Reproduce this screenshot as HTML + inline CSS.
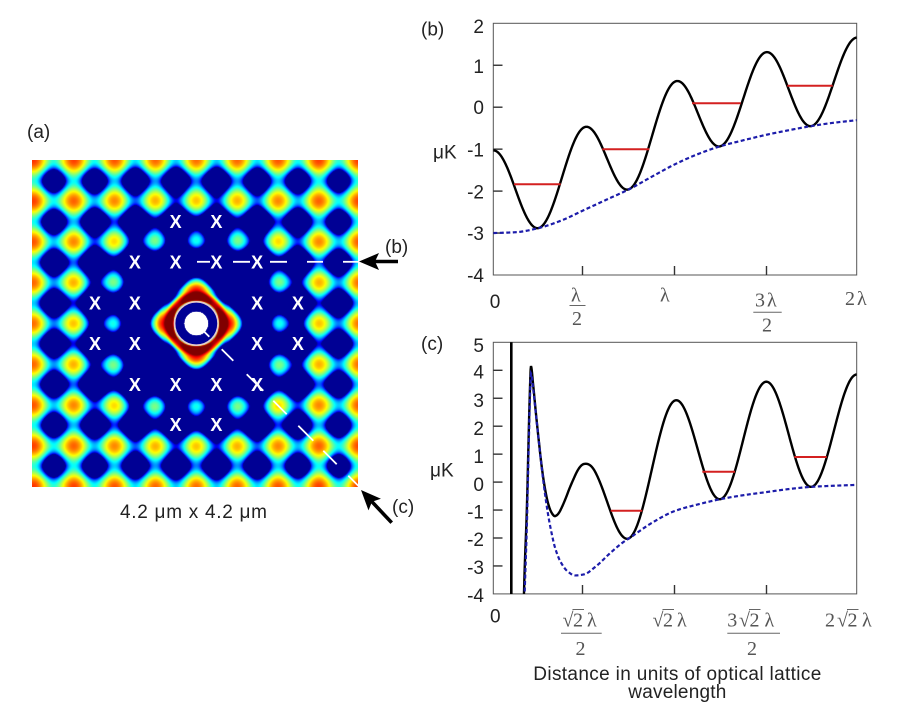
<!DOCTYPE html>
<html><head><meta charset="utf-8"><title>Optical lattice potential</title>
<style>
html,body{margin:0;padding:0;background:#fff;width:900px;height:720px;overflow:hidden}
#wrap{position:relative;width:900px;height:720px;background:#fff}
#hm{position:absolute;left:32px;top:160px;width:326px;height:327px;background:#1b3fbf}
#ov{position:absolute;left:0;top:0}
.t{font-family:"Liberation Sans",Arial,sans-serif;fill:#222;font-size:19px}
.s{font-family:"Liberation Serif","Times New Roman",serif;fill:#555;font-size:20px}
.xm{font-family:"Liberation Sans",Arial,sans-serif;fill:#fff;font-size:18px;font-weight:bold;text-anchor:middle}
</style></head><body><div id="wrap">
<canvas id="hm" width="326" height="327"></canvas>
<svg id="ov" width="900" height="720" viewBox="0 0 900 720">
<defs>
<clipPath id="cb"><rect x="493.3" y="23.3" width="363.4" height="251.7"/></clipPath>
<clipPath id="cc"><rect x="493.3" y="342.3" width="363.4" height="251.6"/></clipPath>
</defs>

<!-- heatmap overlays -->
<circle cx="196.3" cy="323.5" r="21.7" fill="none" stroke="#e9caca" stroke-width="1.6"/>
<circle cx="196.3" cy="323.5" r="11.8" fill="#fff"/>
<g stroke="#fff" stroke-width="1.8">
<line x1="197" y1="261.8" x2="210" y2="261.8"/>
<line x1="233" y1="261.8" x2="250" y2="261.8"/>
<line x1="270" y1="261.8" x2="287" y2="261.8"/>
<line x1="307" y1="261.8" x2="323" y2="261.8"/>
<line x1="343" y1="261.8" x2="358" y2="261.8"/>
<line x1="203.3" y1="330.8" x2="209.3" y2="336.8"/>
<line x1="221.7" y1="349.2" x2="233.3" y2="360.8"/>
<line x1="246.7" y1="374.2" x2="263.3" y2="390.8"/>
<line x1="273.3" y1="400.8" x2="286.7" y2="414.2"/>
<line x1="298.3" y1="425.8" x2="313.3" y2="440.8"/>
<line x1="323.3" y1="450.8" x2="336.7" y2="464.2"/>
<line x1="348.3" y1="475.8" x2="358.5" y2="486"/>
</g>
<g class="xm">
<text x="175.6" y="228">X</text><text x="216.4" y="228">X</text>
<text x="134.9" y="268.3">X</text><text x="175.6" y="268.3">X</text><text x="216.4" y="268.3">X</text><text x="257.1" y="268.3">X</text>
<text x="95" y="309.6">X</text><text x="134.9" y="309.6">X</text><text x="257.1" y="309.6">X</text><text x="297.9" y="309.6">X</text>
<text x="95" y="349.8">X</text><text x="134.9" y="349.8">X</text><text x="257.1" y="349.8">X</text><text x="297.9" y="349.8">X</text>
<text x="134.9" y="391">X</text><text x="175.6" y="391">X</text><text x="216.4" y="391">X</text><text x="257.1" y="391">X</text>
<text x="175.6" y="431">X</text><text x="216.4" y="431">X</text>
</g>

<!-- arrows -->
<line x1="373" y1="261.5" x2="398" y2="261.5" stroke="#000" stroke-width="3.6"/>
<polygon points="359,261.5 379,253 375,261.5 379,270" fill="#000"/>
<line x1="371" y1="500.7" x2="391.7" y2="522.7" stroke="#000" stroke-width="3.6"/>
<polygon points="361,490 380.9,498.8 372,501.7 368.5,510.4" fill="#000"/>

<!-- left panel labels -->
<text class="t" x="27" y="138">(a)</text>
<text class="t" x="120" y="518" textLength="147" lengthAdjust="spacing">4.2 μm x 4.2 μm</text>
<text class="t" x="385" y="253">(b)</text>
<text class="t" x="392" y="513">(c)</text>

<!-- ===== plot (b) ===== -->
<text class="t" x="421" y="35.5">(b)</text>
<rect x="493.3" y="23.3" width="363.4" height="251.7" fill="none" stroke="#555" stroke-width="1"/>
<g stroke="#333" stroke-width="1.4">
<line x1="493.3" y1="65.25" x2="502.5" y2="65.25"/>
<line x1="493.3" y1="107.2" x2="502.5" y2="107.2"/>
<line x1="493.3" y1="149.15" x2="502.5" y2="149.15"/>
<line x1="493.3" y1="191.1" x2="502.5" y2="191.1"/>
<line x1="493.3" y1="233.05" x2="502.5" y2="233.05"/>
<line x1="582.5" y1="275" x2="582.5" y2="266"/>
<line x1="674.5" y1="275" x2="674.5" y2="266"/>
<line x1="766.5" y1="275" x2="766.5" y2="266"/>
</g>
<g class="t" text-anchor="end">
<text x="484" y="33">2</text>
<text x="484" y="73">1</text>
<text x="484" y="114">0</text>
<text x="484" y="156.5">-1</text>
<text x="484" y="198.5">-2</text>
<text x="484" y="240">-3</text>
<text x="484" y="282">-4</text>
</g>
<text class="t" x="433" y="158.5">μK</text>
<text class="t" x="495" y="308" text-anchor="middle">0</text>
<text class="s" x="571" y="301.5">λ</text>
<line x1="569.5" y1="305.5" x2="585.5" y2="305.5" stroke="#666" stroke-width="1"/>
<text class="s" x="572" y="325">2</text>
<text class="s" x="660" y="301.5">λ</text>
<text class="s" x="755" y="306.5">3</text><text class="s" x="767" y="306.5">λ</text>
<line x1="753.3" y1="312.3" x2="781.7" y2="312.3" stroke="#666" stroke-width="1"/>
<text class="s" x="762" y="331.5">2</text>
<text class="s" x="845" y="305">2</text><text class="s" x="857" y="305">λ</text>
<g clip-path="url(#cb)">
<path id="pbk" d="" fill="none" stroke="#000" stroke-width="2.4"/>
<path id="pbb" d="" fill="none" stroke="#1c1caa" stroke-width="2.2" stroke-dasharray="4 2.5"/>
</g>
<g stroke="#d42020" stroke-width="2">
<line x1="514" y1="184.3" x2="560.7" y2="184.3"/>
<line x1="602.3" y1="149.3" x2="649.3" y2="149.3"/>
<line x1="692" y1="103.3" x2="740.7" y2="103.3"/>
<line x1="787.3" y1="85.7" x2="832.7" y2="85.7"/>
</g>

<!-- ===== plot (c) ===== -->
<text class="t" x="421" y="350">(c)</text>
<rect x="493.3" y="342.3" width="363.4" height="251.6" fill="none" stroke="#555" stroke-width="1"/>
<g stroke="#333" stroke-width="1.4">
<line x1="493.3" y1="370.3" x2="502.5" y2="370.3"/>
<line x1="493.3" y1="398.25" x2="502.5" y2="398.25"/>
<line x1="493.3" y1="426.2" x2="502.5" y2="426.2"/>
<line x1="493.3" y1="454.15" x2="502.5" y2="454.15"/>
<line x1="493.3" y1="482.1" x2="502.5" y2="482.1"/>
<line x1="493.3" y1="510.05" x2="502.5" y2="510.05"/>
<line x1="493.3" y1="538" x2="502.5" y2="538"/>
<line x1="493.3" y1="565.95" x2="502.5" y2="565.95"/>
<line x1="582.5" y1="594" x2="582.5" y2="585"/>
<line x1="674.5" y1="594" x2="674.5" y2="585"/>
<line x1="766.5" y1="594" x2="766.5" y2="585"/>
</g>
<line x1="511.3" y1="342.3" x2="511.3" y2="594" stroke="#000" stroke-width="2.6"/>
<g class="t" text-anchor="end">
<text x="484" y="351.8">5</text>
<text x="484" y="378.5">4</text>
<text x="484" y="406.8">3</text>
<text x="484" y="435">2</text>
<text x="484" y="462.8">1</text>
<text x="484" y="490.8">0</text>
<text x="484" y="518.5">-1</text>
<text x="484" y="546.2">-2</text>
<text x="484" y="574.2">-3</text>
<text x="484" y="601.8">-4</text>
</g>
<text class="t" x="430" y="476.5">μK</text>
<text class="t" x="495.3" y="622.5" text-anchor="middle">0</text>
<!-- sqrt2 lambda / 2 -->
<text class="s" y="626.5"><tspan x="562.5">√</tspan><tspan x="573">2</tspan><tspan x="587">λ</tspan></text>
<line x1="572.5" y1="609.5" x2="584" y2="609.5" stroke="#666" stroke-width="1"/>
<line x1="561" y1="633.3" x2="601.7" y2="633.3" stroke="#666" stroke-width="1"/>
<text class="s" x="575.5" y="655">2</text>
<!-- sqrt2 lambda -->
<text class="s" y="626.5"><tspan x="652.5">√</tspan><tspan x="663">2</tspan><tspan x="677">λ</tspan></text>
<line x1="662.5" y1="609.5" x2="674" y2="609.5" stroke="#666" stroke-width="1"/>
<!-- 3 sqrt2 lambda / 2 -->
<text class="s" y="626.5"><tspan x="727.3">3</tspan><tspan x="739">√</tspan><tspan x="749.5">2</tspan><tspan x="764.5">λ</tspan></text>
<line x1="749" y1="609.5" x2="760.5" y2="609.5" stroke="#666" stroke-width="1"/>
<line x1="727.3" y1="633.3" x2="780" y2="633.3" stroke="#666" stroke-width="1"/>
<text class="s" x="747" y="655">2</text>
<!-- 2 sqrt2 lambda -->
<text class="s" y="626.5"><tspan x="825">2</tspan><tspan x="837">√</tspan><tspan x="847.5">2</tspan><tspan x="862">λ</tspan></text>
<line x1="847" y1="609.5" x2="858.5" y2="609.5" stroke="#666" stroke-width="1"/>
<g clip-path="url(#cc)">
<path id="pck" d="" fill="none" stroke="#000" stroke-width="2.4"/>
<path id="pcb" d="" fill="none" stroke="#1c1caa" stroke-width="2.2" stroke-dasharray="4 2.5"/>
</g>
<g stroke="#d42020" stroke-width="2">
<line x1="610.7" y1="510.7" x2="642.3" y2="510.7"/>
<line x1="702.3" y1="471.7" x2="735" y2="471.7"/>
<line x1="794.3" y1="457" x2="826.7" y2="457"/>
</g>
<text class="t" x="533.3" y="680" textLength="288" lengthAdjust="spacing">Distance in units of optical lattice</text>
<text class="t" x="628.3" y="698" textLength="98" lengthAdjust="spacing">wavelength</text>
</svg>
</div>
<script>
(function(){
function pchip(xs,ys){
  var n=xs.length,h=[],d=[],m=new Array(n),i;
  for(i=0;i<n-1;i++){h[i]=xs[i+1]-xs[i];d[i]=(ys[i+1]-ys[i])/h[i];}
  m[0]=d[0];m[n-1]=d[n-2];
  for(i=1;i<n-1;i++){
    if(d[i-1]*d[i]<=0)m[i]=0;
    else{var w1=2*h[i]+h[i-1],w2=h[i]+2*h[i-1];m[i]=(w1+w2)/(w1/d[i-1]+w2/d[i]);}
  }
  return function(x){
    if(x<=xs[0])return ys[0]+(x-xs[0])*m[0];
    if(x>=xs[n-1])return ys[n-1];
    var k=0;while(x>xs[k+1])k++;
    var t=(x-xs[k])/h[k],t2=t*t,t3=t2*t;
    return (2*t3-3*t2+1)*ys[k]+(t3-2*t2+t)*h[k]*m[k]+(-2*t3+3*t2)*ys[k+1]+(t3-t2)*h[k]*m[k+1];
  };
}
var Eb=pchip([0,0.125,0.25,0.375,0.5,0.625,0.75,0.875,1,1.125,1.25,1.375,1.5,1.625,1.75,1.875,2],
 [-3.0,-2.98,-2.88,-2.7,-2.45,-2.2,-1.95,-1.65,-1.36,-1.12,-0.93,-0.79,-0.66,-0.55,-0.45,-0.37,-0.31]);
var Ec=pchip([0.15,0.17,0.185,0.195,0.2,0.2075,0.22,0.235,0.25,0.265,0.28,0.3,0.32,0.34,0.37,0.41,0.45,0.5,0.56,0.65,0.715,0.75,0.875,1,1.125,1.25,1.375,1.5,1.625,1.75,1.875,2],
 [-12,-4.6,-1.5,1.3,2.6,3.88,3.3,2.4,1.5,0.6,-0.2,-1.1,-1.8,-2.35,-2.85,-3.2,-3.34,-3.3,-3.04,-2.5,-2.15,-2.0,-1.45,-1.03,-0.8,-0.61,-0.47,-0.36,-0.25,-0.17,-0.13,-0.1]);
var Em=pchip([0.15,0.17,0.185,0.195,0.2,0.2075,0.23,0.25,0.27,0.29,0.32,0.354,0.39,0.424,0.46,0.5,0.56,0.65,0.715,0.75,0.875,1,1.125,1.25,1.375,1.5,1.625,1.75,1.875,2],
 [-12,-4.6,-1.5,1.3,2.6,4.5,4.6,3.8,2.2,0.9,-0.2,-1.5,-2.4,-3.0,-3.3,-3.3,-3.04,-2.5,-2.15,-2.0,-1.45,-1.03,-0.8,-0.61,-0.47,-0.36,-0.25,-0.17,-0.13,-0.1]);
function X(x){return 493.3+181.7*x;}
function Yb(v){return 107.2-41.95*v;}
function Yc(v){return 482.1-27.95*v;}
function mk(f,x0,x1,Y,n){
  var s='';
  for(var i=0;i<=n;i++){
    var x=x0+(x1-x0)*i/n,y=Y(f(x));
    if(y>720)y=720;if(y<-50)y=-50;
    s+=(i?'L':'M')+X(x).toFixed(2)+' '+y.toFixed(2);
  }
  return s;
}
function c2(x){var c=Math.cos(2*Math.PI*x);return c*c;}
document.getElementById('pbk').setAttribute('d',mk(function(x){return Eb(x)+1.97*c2(x);},0,2,Yb,700));
document.getElementById('pbb').setAttribute('d',mk(Eb,0,2,Yb,400));
document.getElementById('pck').setAttribute('d',mk(function(u){return Ec(u)+3.95*c2(u);},0.15,2,Yc,900));
document.getElementById('pcb').setAttribute('d',mk(Ec,0.15,2,Yc,900));

// heatmap
var cv=document.getElementById('hm'),ctx=cv.getContext('2d');
var W=326,H=327,img=ctx.createImageData(W,H),D=img.data;
var a=40.75,cx=164.3,cy=163.5,TP=2*Math.PI,S2=2*Math.SQRT2;
function cl(v){return v<0?0:(v>1?1:v);}
for(var py=0;py<H;py++){
  for(var px=0;px<W;px++){
    var Xc=(px+0.5-cx)/a,Yc2=(py+0.5-cy)/a,r=Math.sqrt(Xc*Xc+Yc2*Yc2);
    var o=(py*W+px)*4,R,G,B;
    if(r<0.29){R=G=B=255;}
    else{
      var s=(Math.cos(TP*Xc)+Math.cos(TP*Yc2)+2)/4;
      var u=r/S2;
      var E=u<0.15?-12:Em(u);
      var se=s+E/3.92;
      var t=0.84*Math.pow(Math.max(0,(se-0.26)/0.74),0.55);
      t=Math.min(1,Math.max(0.02,t));
      R=255*cl(1.5-Math.abs(4*t-3));
      G=255*cl(1.5-Math.abs(4*t-2));
      B=255*cl(1.5-Math.abs(4*t-1));
    }
    D[o]=R;D[o+1]=G;D[o+2]=B;D[o+3]=255;
  }
}
ctx.putImageData(img,0,0);
})();
</script>
</body></html>
